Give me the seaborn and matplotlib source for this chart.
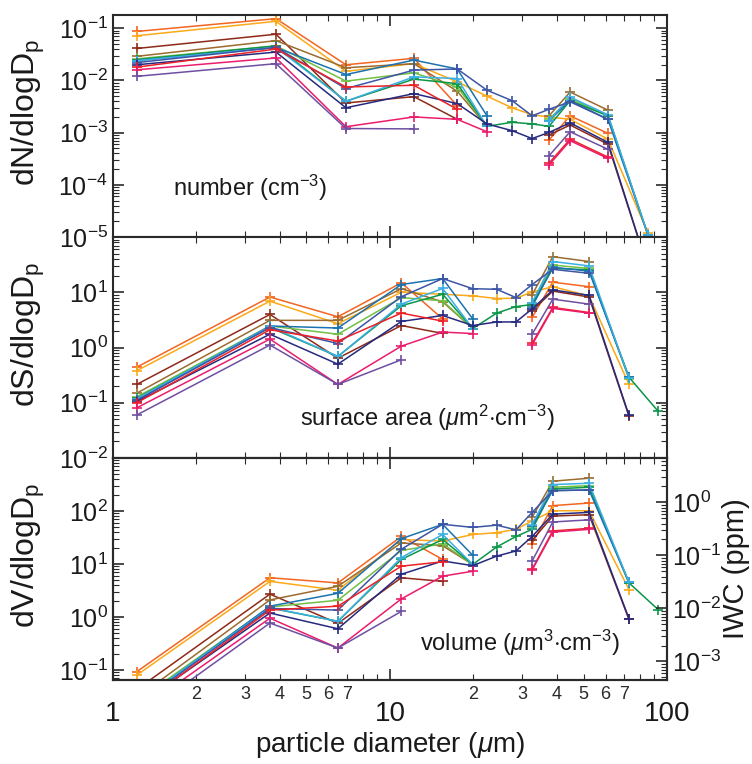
import numpy as np
import pandas as pd
import seaborn as sns
import matplotlib.pyplot as plt
from matplotlib.ticker import LogLocator, FixedLocator, FuncFormatter, NullFormatter

nan = np.nan

# one entry per flight segment (colour order as in the figure)
flights = ["f01", "f02", "f03", "f04", "f05", "f06", "f07",
           "f08", "f09", "f10", "f11", "f12", "f13"]
flight_colors = ["#F26522", "#FBA919", "#8E2A19", "#9B6B2F", "#72BF44", "#0C9548", "#1B72B0",
                 "#3BAEE3", "#3C55A5", "#262A7E", "#EC2027", "#EC1C6C", "#6E4FA2"]

# bin centres (um)
diam_number = [1.22, 3.88, 6.94, 12.2, 17.5, 22.4, 27.6, 32.6, 37.5, 44.7, 61.2, 85.4]
diam_sv = [1.22, 3.69, 6.49, 11.0, 15.5, 19.9, 24.3, 28.5, 32.6, 38.7, 52.3, 72.9, 92.9]

# dN/dlogDp (cm-3)
number_vals = [
    [0.087, 0.153, 0.020, 0.0266, 0.0033, nan, nan, nan, 0.00072, 0.0021, 0.00097, nan],
    [0.072, 0.136, 0.015, 0.021, 0.0094, 0.0050, 0.0030, 0.0022, 0.0020, 0.0018, 0.00075, 1.17e-5],
    [0.041, 0.077, 0.0037, 0.0049, 0.0018, nan, nan, nan, 0.0009, 0.0014, 0.0006, 2.5e-6],
    [0.029, 0.058, 0.0175, 0.021, 0.0062, 0.00132, nan, nan, 0.0021, 0.0060, 0.0027, nan],
    [0.026, 0.046, 0.0097, 0.014, 0.0075, 0.00132, nan, nan, 0.0018, 0.0045, 0.0021, 1.05e-5],
    [0.025, 0.046, 0.0040, 0.0106, 0.0087, 0.00132, 0.00158, 0.00147, 0.00132, 0.0041, 0.0021, 1.09e-5],
    [0.024, 0.043, 0.013, 0.0246, 0.0166, 0.0021, nan, nan, 0.0017, 0.0041, 0.0018, 1.09e-5],
    [0.024, 0.043, 0.0040, 0.0117, 0.0109, 0.00132, nan, nan, 0.0017, 0.0048, 0.0022, 1.1e-5],
    [0.022, 0.043, 0.0070, 0.0158, 0.0166, 0.0065, 0.0041, 0.0021, 0.0028, 0.0039, 0.0018, nan],
    [0.020, 0.035, 0.0030, 0.0056, 0.0036, 0.00147, 0.00109, 0.00077, 0.00101, 0.00154, 0.00065, 2.5e-6],
    [0.018, 0.040, 0.0075, 0.0081, 0.0028, nan, nan, nan, 0.00026, 0.00075, 0.00034, nan],
    [0.016, 0.027, 0.0013, 0.0020, 0.0018, 0.00104, nan, nan, 0.00024, 0.0007, 0.00032, nan],
    [0.012, 0.021, 0.0012, 0.00118, nan, nan, nan, nan, 0.00036, 0.00104, 0.00048, nan],
]

# dS/dlogDp (um2 cm-3)
surface_vals = [
    [0.44, 8.2, 3.6, 14.8, 3.3, nan, nan, nan, 3.5, 15.2, 12.6, nan, nan],
    [0.38, 6.9, 2.7, 10.0, 9.2, 8.6, 7.7, 7.8, 10.1, 12.6, 8.6, 0.215, nan],
    [0.215, 3.96, 0.64, 2.5, 1.8, nan, nan, nan, 4.6, 10.5, 8.2, 0.057, nan],
    [0.149, 3.1, 3.1, 11.6, 6.7, 2.2, nan, nan, 9.0, 44, 36, nan, nan],
    [0.128, 2.45, 1.74, 8.0, 7.0, 2.2, nan, nan, 6.3, 31, 27, 0.27, nan],
    [0.121, 2.3, 0.69, 5.7, 9.2, 2.2, 4.2, 5.5, 6.0, 27, 25.5, 0.29, 0.070],
    [0.113, 2.45, 2.25, 13.8, 17.7, 3.3, nan, nan, 5.5, 28.5, 24, 0.29, nan],
    [0.118, 2.4, 0.69, 6.1, 11.7, 2.2, nan, nan, 6.5, 36, 30, 0.28, nan],
    [0.11, 2.3, 1.18, 8.3, 17.7, 11.6, 11.3, 8.0, 13.8, 26, 22, nan, nan],
    [0.105, 1.74, 0.50, 2.96, 3.8, 2.5, 2.9, 2.9, 5.0, 11.0, 8.8, 0.059, nan],
    [0.10, 2.1, 1.31, 4.2, 3.0, nan, nan, nan, 1.19, 5.3, 4.3, nan, nan],
    [0.081, 1.42, 0.215, 1.06, 1.9, 1.79, nan, nan, 1.12, 5.1, 4.2, nan, nan],
    [0.060, 1.11, 0.215, 0.60, nan, nan, nan, nan, 1.74, 7.5, 6.1, nan, nan],
]

# dV/dlogDp (um3 cm-3)
volume_vals = [
    [0.093, 5.5, 4.4, 33, 12.2, nan, nan, nan, 24, 126, 141, nan, nan],
    [0.080, 4.7, 3.2, 29, 27, 36, 39, 45, 65, 101, 101, 3.3, nan],
    [0.043, 2.7, 0.76, 5.5, 4.7, nan, nan, nan, 28, 80, 85, 0.90, nan],
    [0.030, 2.1, 3.8, 25, 22, 9.8, nan, nan, 76, 364, 415, nan, nan],
    [0.026, 1.55, 2.07, 18, 24, 9.8, nan, nan, 50, 280, 300, 4.3, nan],
    [0.024, 1.48, 0.83, 12.2, 29, 9.8, 21, 33, 45, 260, 280, 4.4, 1.38],
    [0.023, 1.6, 2.8, 30, 56, 14.6, nan, nan, 52, 242, 249, 4.5, nan],
    [0.024, 1.5, 0.83, 13.2, 36, 9.8, nan, nan, 55, 315, 333, 4.5, nan],
    [0.022, 1.45, 1.35, 19, 56, 49, 54, 44, 94, 242, 249, nan, nan],
    [0.021, 1.19, 0.60, 6.4, 11.4, 9.3, 14.1, 17.6, 33, 87, 94, 0.93, nan],
    [0.020, 1.35, 1.6, 9.1, 11.0, nan, nan, nan, 8.0, 42, 47, nan, nan],
    [0.016, 0.95, 0.26, 2.2, 5.9, 7.3, nan, nan, 7.7, 40, 45, nan, nan],
    [0.012, 0.77, 0.26, 1.28, nan, nan, nan, nan, 11.4, 62, 68, nan, nan],
]

iwc_per_volume = 1 / 145.0

minor_x = [2, 3, 4, 5, 6, 7, 8, 9, 20, 30, 40, 50, 60, 70, 80, 90]


def to_long(diam, table):
    rows = []
    for name, vals in zip(flights, table):
        seg = 0
        for d, v in zip(diam, vals):
            if np.isnan(v):
                seg += 1
                continue
            rows.append((name, f"{name}_{seg}", d, v))
    return pd.DataFrame(rows, columns=["flight", "seg", "diameter", "value"])


sns.set_theme(style="ticks")
plt.rcParams["font.family"] = ["Liberation Sans", "DejaVu Sans"]
plt.rcParams["mathtext.fontset"] = "custom"
plt.rcParams["mathtext.rm"] = "Liberation Sans"
plt.rcParams["mathtext.it"] = "Liberation Sans:italic"
plt.rcParams["axes.edgecolor"] = "#2a2a2a"
plt.rcParams["axes.linewidth"] = 1.5

fig = plt.figure(figsize=(7.52, 7.64), dpi=100)
ax_n = fig.add_axes([0.150, 0.6898, 0.737, 0.2906])
ax_s = fig.add_axes([0.150, 0.4005, 0.737, 0.2893])
ax_v = fig.add_axes([0.150, 0.110, 0.737, 0.2906])

palette = dict(zip(flights, flight_colors))
panels = [
    (ax_n, diam_number, number_vals, (1e-5, 0.18), [1e-5, 1e-4, 1e-3, 1e-2, 1e-1], "dN/dlogD$_\\mathrm{p}$"),
    (ax_s, diam_sv, surface_vals, (1e-2, 1e2), [1e-2, 1e-1, 1, 10], "dS/dlogD$_\\mathrm{p}$"),
    (ax_v, diam_sv, volume_vals, (0.065, 1000), [1e-1, 1, 10, 100], "dV/dlogD$_\\mathrm{p}$"),
]

for ax, diam, table, ylim, yticks, ylabel in panels:
    ax.set_xscale("log")
    ax.set_yscale("log")
    df = to_long(diam, table)
    sns.lineplot(data=df, x="diameter", y="value", hue="flight", units="seg",
                 estimator=None, sort=False, palette=palette, legend=False,
                 marker="+", markersize=7.5, markeredgewidth=1.2, linewidth=1.1, ax=ax)
    for ln in ax.get_lines():
        ln.set_markeredgecolor(ln.get_color())
    ax.set_xlim(1, 100)
    ax.set_ylim(*ylim)
    ax.yaxis.set_major_locator(FixedLocator(yticks))
    ax.yaxis.set_minor_locator(LogLocator(base=10, subs=np.arange(2, 10), numticks=20))
    ax.yaxis.set_minor_formatter(NullFormatter())
    ax.xaxis.set_major_locator(FixedLocator([1, 10, 100]))
    ax.xaxis.set_minor_locator(FixedLocator(minor_x))
    ax.tick_params(which="both", direction="in", top=True, right=True, colors="#2a2a2a")
    ax.tick_params(which="major", length=8, width=1.2, labelsize=18, labelcolor="#1a1a1a")
    ax.tick_params(which="minor", length=4, width=0.8)
    ax.set_xlabel("")
    ax.set_ylabel(ylabel, fontsize=23, color="#1a1a1a")
    ax.yaxis.set_label_coords(-0.118, 0.56)

for ax in (ax_n, ax_s):
    ax.tick_params(which="both", labelbottom=False)

ax_v.tick_params(which="both", right=False)
ax_v.xaxis.set_major_formatter(FuncFormatter(lambda v, p: f"{v:g}"))


def minor_label(v, pos):
    m = int(round(v / 10 ** np.floor(np.log10(v) + 1e-9)))
    return str(m) if m <= 7 else ""


ax_v.xaxis.set_minor_formatter(FuncFormatter(minor_label))
ax_v.tick_params(axis="x", which="major", pad=15, labelsize=20)
ax_v.tick_params(axis="x", which="minor", labelsize=13, pad=4,
                 labelfontfamily=["Liberation Sans Narrow", "Liberation Sans"])
ax_v.set_xlabel("particle diameter ($\\mu$m)", fontsize=20, color="#1a1a1a", labelpad=2)

# IWC axis on the right of the volume panel
ax_r = ax_v.twinx()
ax_r.set_yscale("log")
ax_r.set_ylim(0.065 * iwc_per_volume, 1000 * iwc_per_volume)
ax_r.yaxis.set_major_locator(FixedLocator([1e-3, 1e-2, 1e-1, 1]))
ax_r.yaxis.set_minor_locator(LogLocator(base=10, subs=np.arange(2, 10), numticks=20))
ax_r.yaxis.set_minor_formatter(NullFormatter())
ax_r.tick_params(which="both", direction="in", colors="#2a2a2a")
ax_r.tick_params(which="major", length=8, width=1.2, labelsize=18, labelcolor="#1a1a1a")
ax_r.tick_params(which="minor", length=4, width=0.8)
ax_r.set_ylabel("IWC (ppm)", fontsize=21, color="#1a1a1a")
ax_r.yaxis.set_label_coords(1.1, 0.5)

ax_n.text(0.108, 0.22, "number (cm$^{-3}$)", transform=ax_n.transAxes,
          fontsize=17, va="center", color="#1a1a1a")
ax_s.text(0.338, 0.18, "surface area ($\\mu$m$^2$$\\cdot$cm$^{-3}$)", transform=ax_s.transAxes,
          fontsize=17, va="center", color="#1a1a1a")
ax_v.text(0.554, 0.167, "volume ($\\mu$m$^3$$\\cdot$cm$^{-3}$)", transform=ax_v.transAxes,
          fontsize=17, va="center", color="#1a1a1a")

fig.savefig("out.png", dpi=100)
